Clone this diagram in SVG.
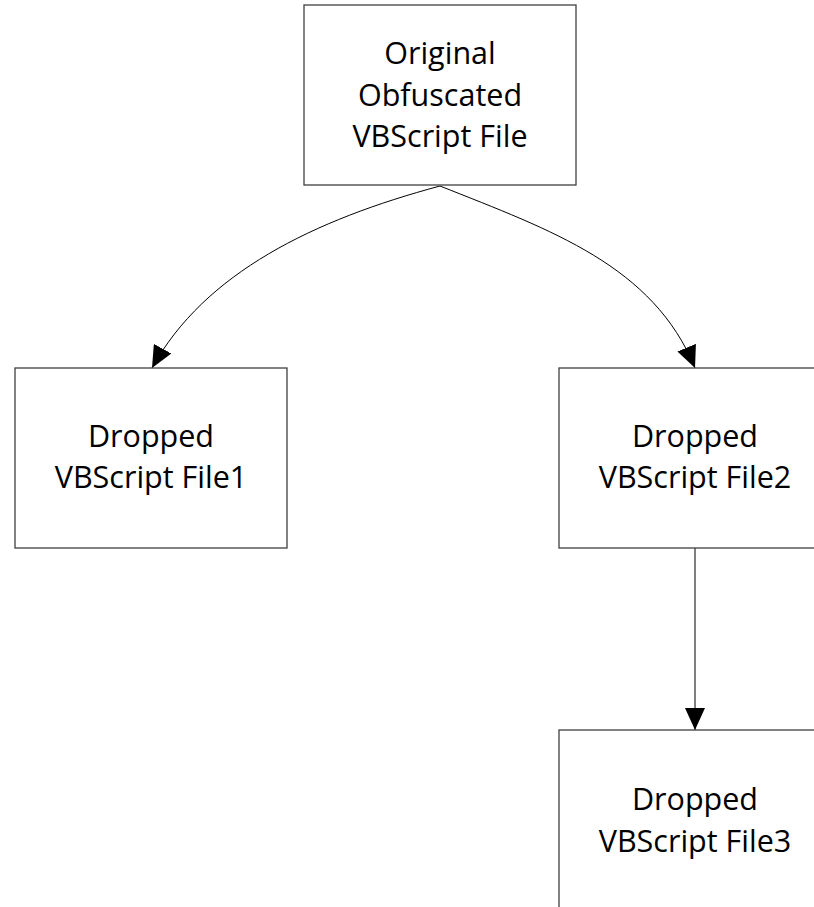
<svg xmlns="http://www.w3.org/2000/svg" width="814" height="907" viewBox="0 0 814 907">
<style>
.box{fill:#fff;stroke:#404040;stroke-width:1.3}
.lbl{font-family:"Open Sans","Noto Sans",sans-serif;font-size:30.5px;fill:#000;text-anchor:middle}
.conn{fill:none;stroke:#000;stroke-width:1}
</style>
<defs>
<marker id="arr" markerUnits="userSpaceOnUse" viewBox="0 0 22 20" refX="22" refY="10" markerWidth="22" markerHeight="20" orient="auto">
<path d="M0,0 L22,10 L0,20 z" fill="#000"/>
</marker>
</defs>
<rect width="814" height="907" fill="#fff"/>
<g id="connectors">
<path class="conn" d="M440,186 C314.5,219.8 204.8,272.3 152,368" marker-end="url(#arr)"/>
<path class="conn" d="M440,186 C551.6,230.4 653.2,265.7 695,368" marker-end="url(#arr)"/>
<path class="conn" d="M695,548 L695,730" marker-end="url(#arr)"/>
</g>
<g id="original">
<rect class="box" x="304" y="5" width="272" height="180"/>
<text class="lbl" x="440" y="64">Original</text>
<text class="lbl" x="440" y="105.5">Obfuscated</text>
<text class="lbl" x="440" y="147">VBScript File</text>
</g>
<g id="dropped1">
<rect class="box" x="15" y="368" width="272" height="180"/>
<text class="lbl" x="151" y="447">Dropped</text>
<text class="lbl" x="151" y="488">VBScript File1</text>
</g>
<g id="dropped2">
<rect class="box" x="559" y="368" width="272" height="180"/>
<text class="lbl" x="695" y="447">Dropped</text>
<text class="lbl" x="695" y="488">VBScript File2</text>
</g>
<g id="dropped3">
<rect class="box" x="559" y="730" width="272" height="180"/>
<text class="lbl" x="695" y="810">Dropped</text>
<text class="lbl" x="695" y="852">VBScript File3</text>
</g>
</svg>
